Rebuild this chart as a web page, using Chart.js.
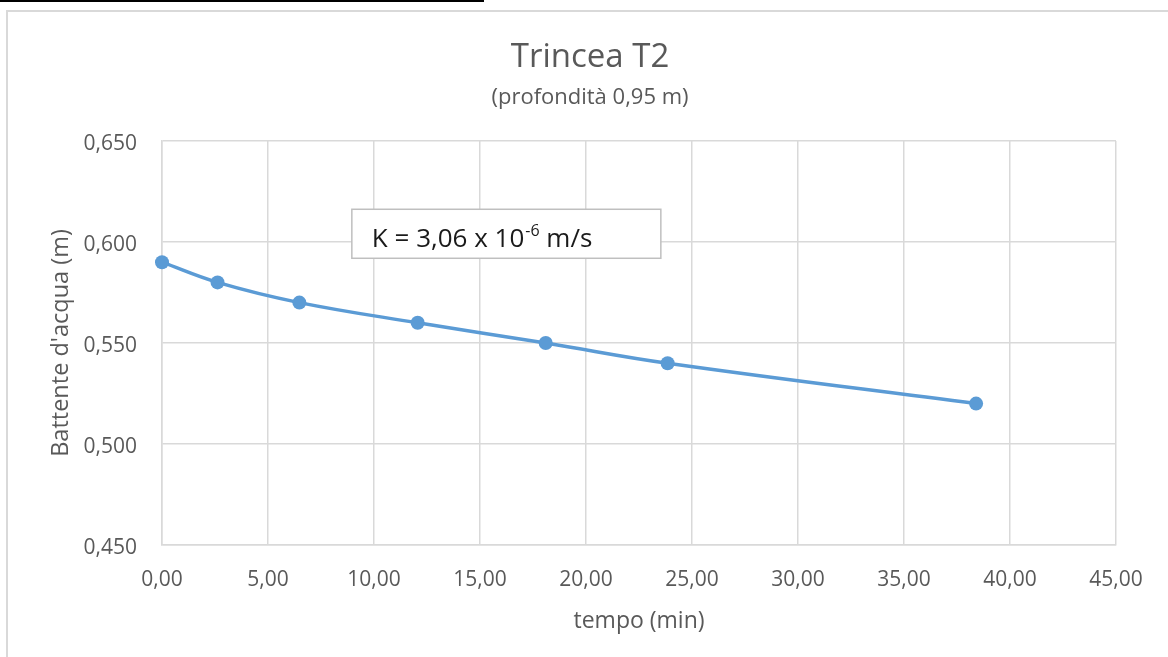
<!DOCTYPE html>
<html lang="it">
<head>
<meta charset="utf-8">
<title>Trincea T2</title>
<script src="https://cdn.jsdelivr.net/npm/chart.js@4/dist/chart.umd.min.js"></script>
<style>
  html, body { margin: 0; padding: 0; background: #ffffff; overflow: hidden; }
  #wrap { position: relative; width: 1168px; height: 657px; }
  #frame { position: absolute; left: 6px; top: 10px; width: 1200px; height: 700px;
           border: 2px solid #d9d9d9; box-sizing: border-box; }
  #rule { position: absolute; left: 0; top: 0; width: 484px; height: 2px; background: #000; }
  canvas { position: absolute; left: 0; top: 0; }
</style>
</head>
<body>
<div id="wrap">
  <div id="frame"></div>
  <div id="rule"></div>
  <canvas id="chart" width="1168" height="657"></canvas>
</div>
<script>
// Misure della prova di infiltrazione in trincea
const tempo = [0.00, 2.62, 6.48, 12.06, 18.10, 23.85, 38.40];          // min
const battente = [0.590, 0.580, 0.570, 0.560, 0.550, 0.540, 0.520];    // m

const titolo = 'Trincea T2';
const sottotitolo = '(profondità 0,95 m)';
const etichettaX = 'tempo (min)';
const etichettaY = "Battente d'acqua (m)";
const permeabilita = { base: 'K = 3,06 x 10', esponente: '-6', unita: ' m/s' };

const FONT = "'Open Sans', 'DejaVu Sans', sans-serif";
const GREY_TEXT = '#595959';
const GRID = '#d9d9d9';
const BLUE = '#5b9bd5';

const punti = tempo.map((t, i) => ({ x: t, y: battente[i] }));

const virgola = (v, d) => v.toFixed(d).replace('.', ',');

// Riquadro con il valore di K, posizionato rispetto all'area del grafico
const riquadroK = {
  id: 'riquadroK',
  afterDraw(chart) {
    const { ctx, chartArea: a } = chart;
    const w = a.right - a.left, h = a.bottom - a.top;
    const x = a.left + 0.199 * w;
    const y = a.top + 0.169 * h;
    const bw = 309, bh = 49;
    ctx.save();
    ctx.fillStyle = '#ffffff';
    ctx.fillRect(x, y, bw, bh);
    ctx.strokeStyle = '#bfbfbf';
    ctx.lineWidth = 1.5;
    ctx.strokeRect(x, y, bw, bh);

    ctx.fillStyle = '#1a1a1a';
    ctx.textBaseline = 'alphabetic';
    ctx.textAlign = 'left';
    const base = y + 38;
    let tx = x + 20;
    ctx.font = `26px ${FONT}`;
    ctx.fillText(permeabilita.base, tx, base);
    tx += ctx.measureText(permeabilita.base).width + 1;
    ctx.font = `16px ${FONT}`;
    ctx.fillText(permeabilita.esponente, tx, base - 11);
    tx += ctx.measureText(permeabilita.esponente).width;
    ctx.font = `26px ${FONT}`;
    ctx.fillText(permeabilita.unita, tx, base);
    ctx.restore();
  }
};

new Chart(document.getElementById('chart'), {
  type: 'scatter',
  data: {
    datasets: [{
      data: punti,
      showLine: true,
      clip: false,
      borderColor: BLUE,
      backgroundColor: BLUE,
      borderWidth: 3.5,
      pointRadius: 7,
      pointBorderWidth: 0,
      pointBackgroundColor: BLUE,
      tension: 0.4
    }]
  },
  options: {
    responsive: false,
    devicePixelRatio: 1,
    animation: false,
    layout: { padding: { left: 64, right: 52, top: 0, bottom: 0 } },
    plugins: {
      legend: { display: false },
      tooltip: { enabled: false },
      title: {
        display: true,
        text: titolo,
        color: GREY_TEXT,
        font: { family: FONT, size: 33, weight: 'normal' },
        padding: { top: 38, bottom: 0 }
      },
      subtitle: {
        display: true,
        text: sottotitolo,
        color: GREY_TEXT,
        font: { family: FONT, size: 22, weight: 'normal' },
        padding: { top: 7, bottom: 30 }
      }
    },
    scales: {
      x: {
        type: 'linear',
        min: 0, max: 45,
        afterFit(s) { s.height = 112; },
        ticks: {
          stepSize: 5,
          color: GREY_TEXT,
          font: { family: FONT, size: 21 },
          padding: 22,
          callback: v => virgola(v, 2)
        },
        grid: { color: GRID, lineWidth: 1.5, drawTicks: false },
        border: { color: GRID, width: 1.5 },
        title: {
          display: true,
          text: etichettaX,
          color: GREY_TEXT,
          font: { family: FONT, size: 23 },
          padding: { top: 0, bottom: 22 }
        }
      },
      y: {
        type: 'linear',
        min: 0.45, max: 0.65,
        afterFit(s) { s.width = 98; },
        ticks: {
          stepSize: 0.05,
          color: GREY_TEXT,
          font: { family: FONT, size: 21 },
          padding: 25,
          labelOffset: 3,
          callback: v => virgola(v, 3)
        },
        grid: { color: GRID, lineWidth: 1.5, drawTicks: false },
        border: { color: GRID, width: 1.5 },
        title: {
          display: true,
          text: etichettaY,
          color: GREY_TEXT,
          font: { family: FONT, size: 23.5 },
          padding: { top: -17, bottom: 0 }
        }
      }
    }
  },
  plugins: [riquadroK]
});
</script>
</body>
</html>
